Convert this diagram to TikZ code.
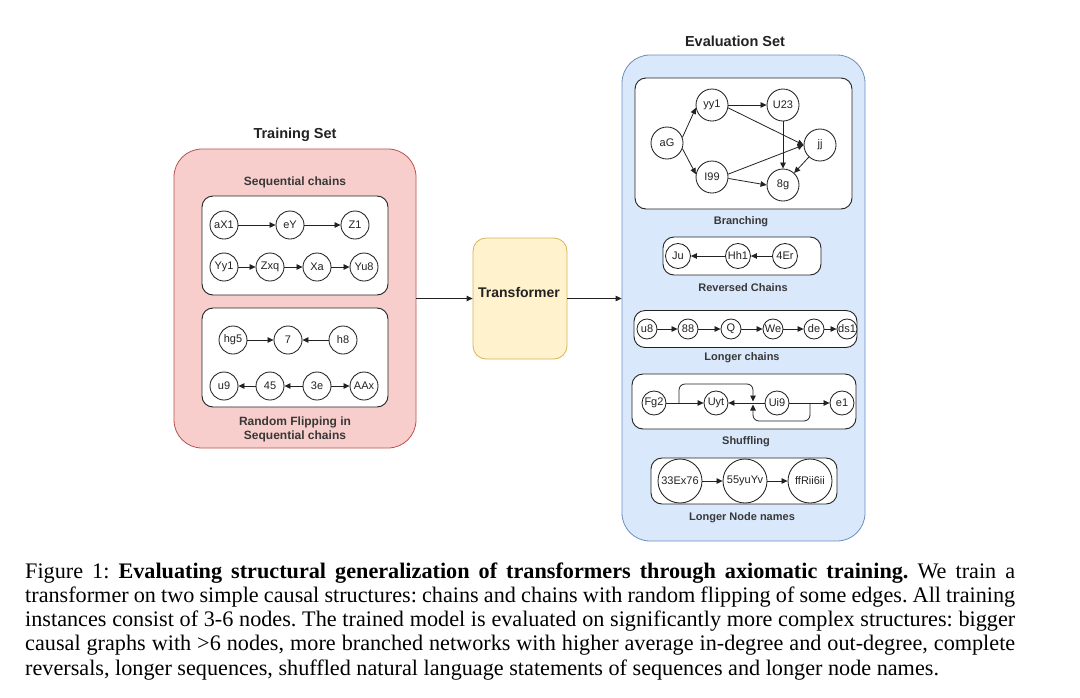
\documentclass[tikz,border=0pt]{standalone}
\usepackage{fontspec}
\setmainfont{Liberation Serif}
\newfontfamily\arial{Liberation Sans}
\usetikzlibrary{arrows.meta}
\definecolor{pinkfill}{HTML}{F8CECC}
\definecolor{pinkdraw}{HTML}{B85450}
\definecolor{bluefill}{HTML}{DAE8FC}
\definecolor{bluedraw}{HTML}{6C8EBF}
\definecolor{yelfill}{HTML}{FFF2CC}
\definecolor{yeldraw}{HTML}{D6B656}
\definecolor{ink}{HTML}{222222}
\tikzset{
  container/.style={rounded corners=28pt, line width=0.8pt, inner sep=0pt},
  pinkbox/.style={container, fill=pinkfill, draw=pinkdraw},
  bluebox/.style={container, fill=bluefill, draw=bluedraw},
  tfbox/.style={rounded corners=13pt, fill=yelfill, draw=yeldraw, line width=0.8pt, inner sep=0pt},
  whitebox/.style={rounded corners=11pt, fill=white, draw=ink, line width=0.9pt, inner sep=0pt},
  nd/.style={circle, draw=ink, fill=white, line width=0.85pt, inner sep=0pt, text=ink, font=\arial\fontsize{11}{12}\selectfont},
  title/.style={font=\arial\bfseries\fontsize{14.5}{16}\selectfont, text=ink, inner sep=0pt},
  sublabel/.style={font=\arial\bfseries\fontsize{11}{13}\selectfont, text=ink!90, inner sep=0pt},
  arr/.style={draw=ink, line width=0.8pt, -{Triangle[length=6pt,width=5.5pt]}},
  capline/.style={anchor=base west, inner sep=0pt, font=\fontsize{22.2}{24}\selectfont\frenchspacing}
}
\begin{document}
\begin{tikzpicture}[x=1pt, y=-1pt]
\path[use as bounding box, fill=white] (0,0) rectangle (1080,697);

% ---------------- Training set ----------------
\node[title] (traintitle) at (295,135) {Training Set};
\node[pinkbox, minimum width=242pt, minimum height=299pt] (train) at (295,298.5) {};
\node[sublabel, font=\arial\bfseries\fontsize{12}{14}\selectfont] (seqlab) at (295,182) {Sequential chains};
\node[whitebox, minimum width=186pt, minimum height=99pt] (seqbox) at (295,245.5) {};
\node[whitebox, minimum width=186pt, minimum height=99pt] (flipbox) at (295,357.5) {};
\node[sublabel, font=\arial\bfseries\fontsize{12}{14}\selectfont, align=center] (fliplab) at (295,429.5) {Random Flipping in\\[-0.5pt]Sequential chains};

\begin{scope}[every node/.style={nd, minimum size=28pt}]
\node (aX1) at (224,225) {aX1};
\node (eY)  at (290,225) {eY};
\node (Z1)  at (355,225) {Z1};
\node (Yy1) at (224,267) {Yy1};
\node (Zxq) at (270,267) {Zxq};
\node (Xa)  at (317,267) {Xa};
\node (Yu8) at (364,267) {Yu8};
\node (hg5) at (233,340) {hg5};
\node (n7)  at (288,340) {7};
\node (h8)  at (343,340) {h8};
\node (u9)  at (224,386) {u9};
\node (n45) at (270,386) {45};
\node (n3e) at (317,386) {3e};
\node (AAx) at (364,386) {AAx};
\end{scope}
\draw[arr] (aX1) -- (eY);
\draw[arr] (eY) -- (Z1);
\draw[arr] (Yy1) -- (Zxq);
\draw[arr] (Zxq) -- (Xa);
\draw[arr] (Xa) -- (Yu8);
\draw[arr] (hg5) -- (n7);
\draw[arr] (h8) -- (n7);
\draw[arr] (n45) -- (u9);
\draw[arr] (n3e) -- (n45);
\draw[arr] (n3e) -- (AAx);

% ---------------- Transformer ----------------
\node[tfbox, minimum width=94pt, minimum height=121pt] (tf) at (520,298.5) {};
\node[title, font=\arial\bfseries\fontsize{14}{16}\selectfont] (tflab) at (519,292) {Transformer};

% ---------------- Evaluation set ----------------
\node[title] (evaltitle) at (735,41) {Evaluation Set};
\node[bluebox, minimum width=243pt, minimum height=486pt] (eval) at (743.5,298) {};
\draw[arr] (train.east) -- (tf.west |- train.east);
\draw[arr] (tf.east |- train.east) -- (eval.west |- train.east);

% Branching
\node[whitebox, minimum width=217pt, minimum height=131pt] (branchbox) at (743.5,143.5) {};
\node[sublabel] (branchlab) at (741,222) {Branching};
\begin{scope}[every node/.style={nd, minimum size=32pt}]
\node (aG)  at (667,143) {aG};
\node (yy1) at (712,105) {yy1};
\node (U23) at (783,105) {U23};
\node (jj)  at (820,145) {jj};
\node (I99) at (712,177) {I99};
\node (g8)  at (783,185) {8g};
\end{scope}
\draw[arr] (aG.20) -- (yy1.190);
\draw[arr] (aG.-20) -- (I99.170);
\draw[arr] (yy1) -- (U23);
\draw[arr] (yy1.-10) -- (jj.west);
\draw[arr] (I99.10) -- (jj.west);
\draw[arr] (U23) -- (g8);
\draw[arr] (I99.-5) -- (g8.180);
\draw[arr] (jj) -- (g8);

% Reversed chains
\node[whitebox, minimum width=158pt, minimum height=38pt] (revbox) at (742,256) {};
\node[sublabel] (revlab) at (743,288) {Reversed Chains};
\begin{scope}[every node/.style={nd, minimum size=25pt}]
\node (Ju)  at (678,256) {Ju};
\node (Hh1) at (738,256) {Hh1};
\node (Er4) at (785,256) {4Er};
\end{scope}
\draw[arr] (Hh1) -- (Ju);
\draw[arr] (Er4) -- (Hh1);

% Longer chains
\node[whitebox, minimum width=223pt, minimum height=37pt] (longbox) at (745.5,329) {};
\node[sublabel] (longlab) at (742,358) {Longer chains};
\begin{scope}[every node/.style={nd, minimum size=20pt}]
\node (u8)  at (647,329) {u8};
\node (n88) at (688,329) {88};
\node (Q)   at (731,329) {Q};
\node (We)  at (773,329) {We};
\node (de)  at (814,329) {de};
\node (ds1) at (847,329) {ds1};
\end{scope}
\draw[arr] (u8) -- (n88);
\draw[arr] (n88) -- (Q);
\draw[arr] (Q) -- (We);
\draw[arr] (We) -- (de);
\draw[arr] (de) -- (ds1);

% Shuffling
\node[whitebox, minimum width=224pt, minimum height=55pt] (shufbox) at (744,401.5) {};
\node[sublabel] (shuflab) at (746,442) {Shuffling};
\begin{scope}[every node/.style={nd, minimum size=24pt}]
\node (Fg2) at (654,403) {Fg2};
\node (Uyt) at (716,403) {Uyt};
\node (Ui9) at (777,403) {Ui9};
\node (e1)  at (842,403) {e1};
\end{scope}
\draw[arr] (Fg2) -- (Uyt);
\draw[arr] (Ui9) -- (Uyt);
\draw[arr] (Ui9) -- (e1);
\coordinate (jumpA) at (679,403);
\coordinate (tipA) at (753,401.5);
\coordinate (jumpB) at (810,403);
\coordinate (tipB) at (753,404.5);
\draw[arr, rounded corners=6pt] (jumpA) -- (jumpA |- 0,384) -- (tipA |- 0,384) -- (tipA);
\draw[arr, rounded corners=6pt] (jumpB) -- (jumpB |- 0,421) -- (tipB |- 0,421) -- (tipB);

% Longer node names
\node[whitebox, minimum width=186pt, minimum height=46pt] (lnnbox) at (744,481) {};
\node[sublabel] (lnnlab) at (742,518) {Longer Node names};
\begin{scope}[every node/.style={nd, minimum size=44pt}]
\node (x33) at (680,481) {33Ex76};
\node (x55) at (745,481) {55yuYv};
\node (xff) at (810,481) {ffRii6ii};
\end{scope}
\draw[arr] (x33) -- (x55);
\draw[arr] (x55) -- (xff);

% ---------------- Caption ----------------
\node[capline] (cap1) at (25,578) {\makebox[990pt][s]{Figure 1: \textbf{Evaluating structural generalization of transformers through axiomatic training.} We train a}};
\node[capline] (cap2) at (25,602.3) {\makebox[990pt][s]{transformer on two simple causal structures: chains and chains with random flipping of some edges. All training}};
\node[capline] (cap3) at (25,626.6) {\makebox[990pt][s]{instances consist of 3-6 nodes. The trained model is evaluated on significantly more complex structures: bigger}};
\node[capline] (cap4) at (25,650.9) {\makebox[990pt][s]{causal graphs with >6 nodes, more branched networks with higher average in-degree and out-degree, complete}};
\node[capline] (cap5) at (25,675.2) {reversals, longer sequences, shuffled natural language statements of sequences and longer node names.};
\end{tikzpicture}
\end{document}
